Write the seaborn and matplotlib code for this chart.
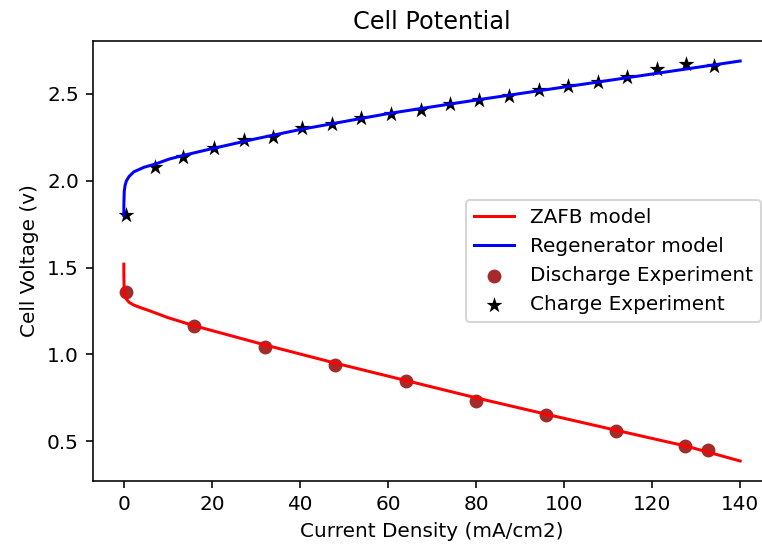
import matplotlib
matplotlib.use("Agg")
import matplotlib.pyplot as plt
import seaborn as sns

# Model curves
zafb_x = [0, 0.02, 0.1, 0.3, 0.6, 1.2, 2.2, 3.5, 6, 10, 16, 24, 32, 48, 64, 80, 96, 112, 128, 140]
zafb_y = [1.52, 1.44, 1.36, 1.335, 1.318, 1.30, 1.285, 1.272, 1.250, 1.212, 1.165, 1.11, 1.055,
          0.950, 0.850, 0.750, 0.655, 0.562, 0.470, 0.386]

regen_x = [0, 0.02, 0.1, 0.3, 0.6, 1.2, 2.3, 4.6, 7, 10.3, 13.3, 20, 30, 40, 60, 80, 100, 120, 140]
regen_y = [1.80, 1.87, 1.94, 1.975, 2.00, 2.025, 2.052, 2.078, 2.095, 2.125, 2.145, 2.185, 2.242,
           2.295, 2.387, 2.465, 2.54, 2.615, 2.69]

# Experiments
dis_x = [0.5, 16, 32, 48, 64, 80, 96, 111.7, 127.5, 132.7]
dis_y = [1.36, 1.163, 1.045, 0.938, 0.848, 0.733, 0.650, 0.558, 0.474, 0.452]

chg_x = [0.6, 7.0, 13.5, 20.5, 27.2, 33.8, 40.5, 47.2, 53.8, 60.6, 67.4, 74.0, 80.7, 87.5,
         94.2, 101.0, 107.6, 114.4, 121.0, 127.8, 134.0]
chg_y = [1.803, 2.081, 2.139, 2.187, 2.235, 2.254, 2.302, 2.325, 2.362, 2.387, 2.408, 2.444,
         2.465, 2.488, 2.522, 2.548, 2.571, 2.596, 2.645, 2.670, 2.663]

dpi = 144
fig = plt.figure(figsize=(762 / dpi, 546 / dpi), dpi=dpi)
ax = fig.add_axes([93 / 762, 1 - 481 / 546, 678 / 762, 440 / 546])

sns.scatterplot(x=dis_x, y=dis_y, color="brown", s=48, linewidth=0, label="Discharge Experiment", ax=ax)
sns.scatterplot(x=chg_x, y=chg_y, color="black", marker="*", s=70, linewidth=0, label="Charge Experiment", ax=ax)
sns.lineplot(x=zafb_x, y=zafb_y, color="red", linewidth=1.5, estimator=None, label="ZAFB model", ax=ax)
sns.lineplot(x=regen_x, y=regen_y, color="blue", linewidth=1.5, estimator=None, label="Regenerator model", ax=ax)

ax.set_title("Cell Potential")
ax.set_xlabel("Current Density (mA/cm2)")
ax.set_ylabel("Cell Voltage (v)")
ax.set_xticks([0, 20, 40, 60, 80, 100, 120, 140])
ax.set_yticks([0.5, 1.0, 1.5, 2.0, 2.5])
ax.spines["right"].set_visible(False)

h, l = ax.get_legend_handles_labels()
order = [l.index(n) for n in ["ZAFB model", "Regenerator model", "Discharge Experiment", "Charge Experiment"]]
ax.legend([h[i] for i in order], [l[i] for i in order], loc="center right")

fig.savefig("out.png", dpi=dpi)
